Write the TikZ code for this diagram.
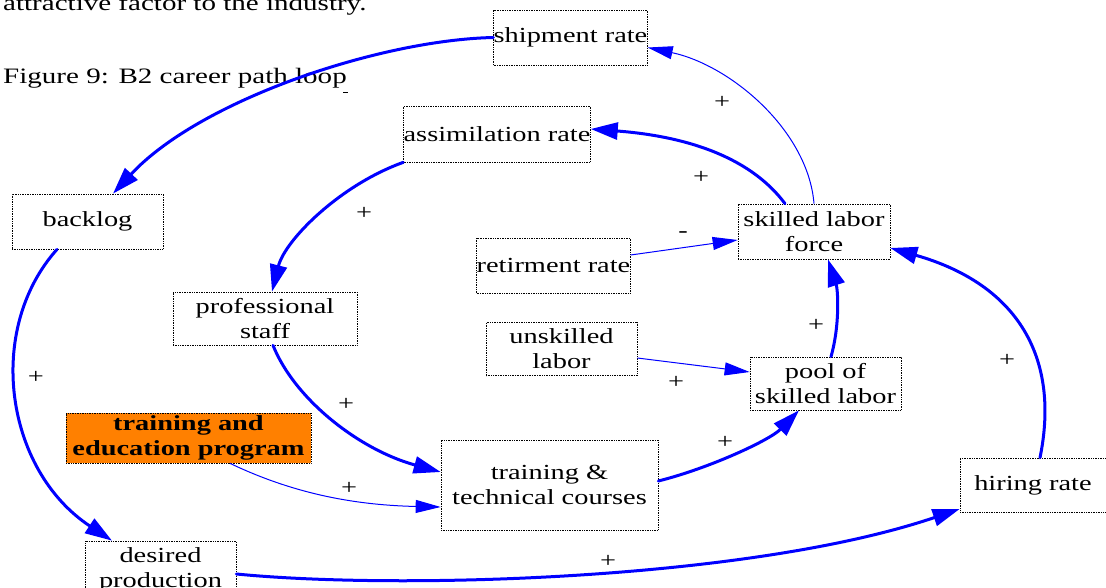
\documentclass[tikz,border=0pt]{standalone}
\usepackage{fontspec}
\setmainfont[FakeStretch=1.32]{Liberation Serif}
\usetikzlibrary{arrows.meta}
\definecolor{linkblue}{RGB}{0,0,255}
\definecolor{progorange}{RGB}{255,128,0}

\begin{document}
\begin{tikzpicture}[x=1pt,y=1pt,
  var/.style={draw=black, densely dotted, line width=0.7pt, rectangle,
    inner sep=0pt, align=center, text=black,
    font=\fontsize{21.5}{25}\selectfont},
  prog/.style={var, fill=progorange, font=\fontsize{21.5}{25}\selectfont\bfseries},
  link/.style={draw=linkblue, line width=3pt, line cap=round,
    -{Triangle[length=27pt,width=17pt]}},
  thinlink/.style={draw=linkblue, line width=1pt,
    -{Triangle[length=25pt,width=13pt]}},
  sign/.style={inner sep=0pt, font=\fontsize{21.5}{25}\selectfont},
  caption/.style={inner sep=0pt, anchor=base west, font=\fontsize{22}{26}\selectfont}]

\useasboundingbox (0,0) rectangle (1106,-588);
\clip (0,0) rectangle (1106,-588);

% running text above the figure
\node[caption] (prevline) at (3,-11) {attractive factor to the industry.};
\node[caption] (figcap) at (3,-84) {Figure 9: B2 career path loop};
\draw[line width=0.8pt] (343,-92) -- (348,-92);

% variables
\node[var, minimum width=149pt, minimum height=55pt] (ship)     at (570.5,-37.5) {shipment rate};
\node[var, minimum width=184pt, minimum height=56pt] (assim)    at (497,-134)    {assimilation rate};
\node[var, minimum width=151pt, minimum height=55pt] (backlog)  at (87.5,-221.5) {backlog};
\node[var, minimum width=152pt, minimum height=55pt] (slf)      at (814,-231.5)  {skilled labor\\force};
\node[var, minimum width=151pt, minimum height=55pt] (retire)   at (553.5,-265.5){retirment rate};
\node[var, minimum width=184pt, minimum height=53pt] (prof)     at (265,-318.5)  {professional\\staff};
\node[var, minimum width=151pt, minimum height=53pt] (unsk)     at (561.5,-349)  {unskilled\\labor};
\node[var, minimum width=151pt, minimum height=53pt] (pool)     at (825.5,-383.5){pool of\\skilled labor};
\node[prog, minimum width=245pt, minimum height=50pt] (tep)     at (188.5,-438)  {training and\\education program};
\node[var, minimum width=217pt, minimum height=90pt] (ttc)      at (549.5,-485)  {training \&\\technical courses};
\node[var, minimum width=146pt, minimum height=54pt] (hire)     at (1033,-485)   {hiring rate};
\node[var, minimum width=151pt, minimum height=58pt] (desprod)  at (160.5,-570)  {desired\\production};

% causal links
\draw[link] (ship.west) .. controls (380,-40) and (200,-100) .. ([xshift=25.5pt]backlog.north);
\draw[thinlink] (slf.north) .. controls (808,-130) and (730,-65) .. ([yshift=-10pt]ship.east);
\draw[link] ([xshift=-29pt]slf.north) .. controls (745,-150) and (670,-135) .. ([yshift=5pt]assim.east);
\draw[link] (assim.south west) .. controls (340,-185) and (285,-240) .. ([xshift=7pt]prof.north);
\draw[thinlink] ([yshift=10.5pt]retire.east) -- ([yshift=-8.5pt]slf.west);
\draw[link] ([xshift=-30.5pt]backlog.south) .. controls (-15,-330) and (5,-470) .. ([xshift=-48.5pt]desprod.north);
\draw[link] ([xshift=8pt]prof.south) .. controls (295,-400) and (360,-450) .. ([yshift=13pt]ttc.west);
\draw[thinlink] ([xshift=41.5pt]tep.south) .. controls (290,-492) and (350,-505) .. ([yshift=-22pt]ttc.west);
\draw[link] ([yshift=4pt]ttc.east) .. controls (710,-468) and (770,-440) .. ([xshift=-26.5pt]pool.south);
\draw[thinlink] ([yshift=-9pt]unsk.east) -- ([yshift=11.5pt]pool.west);
\draw[link] ([xshift=5.5pt]pool.north) .. controls (840,-325) and (838,-290) .. ([xshift=14pt]slf.south);
\draw[link] ([xshift=7pt]hire.north) .. controls (1060,-360) and (1020,-285) .. ([yshift=-16.5pt]slf.east);
\draw[link] ([yshift=-4pt]desprod.east) .. controls (400,-590) and (750,-580) .. ([yshift=-24pt]hire.west);

% link polarities
\node[sign] (s1)  at (722,-102) {+};
\node[sign] (s2)  at (701,-177) {+};
\node[sign] (s3)  at (683,-235) {-};
\node[sign] (s4)  at (364,-213) {+};
\node[sign] (s5)  at (36,-377)  {+};
\node[sign] (s6)  at (346,-404) {+};
\node[sign] (s7)  at (349,-488) {+};
\node[sign] (s8)  at (676,-382) {+};
\node[sign] (s9)  at (725,-442) {+};
\node[sign] (s10) at (816,-325) {+};
\node[sign] (s11) at (1007,-360){+};
\node[sign] (s12) at (608,-561) {+};
\end{tikzpicture}
\end{document}
